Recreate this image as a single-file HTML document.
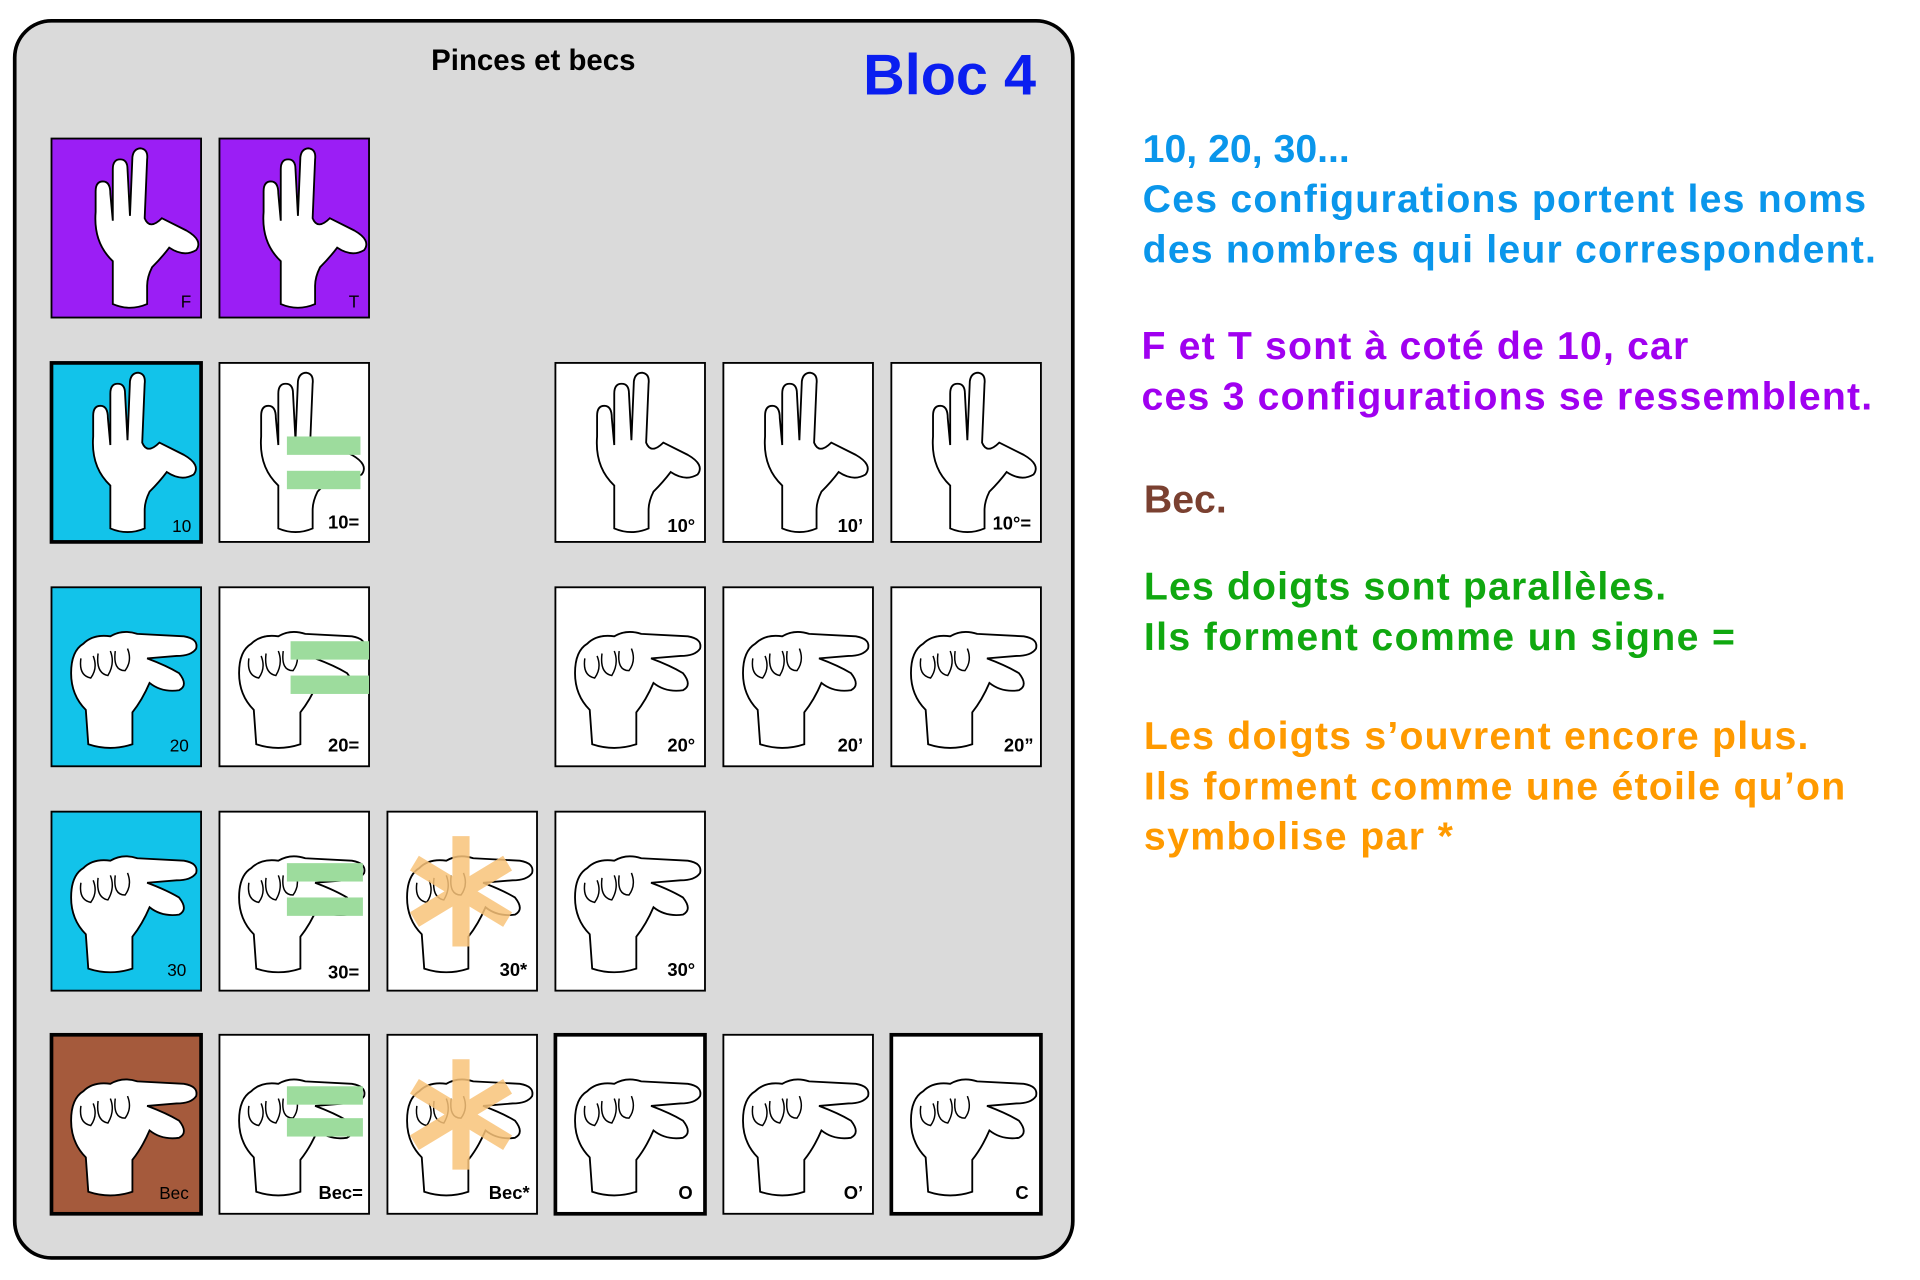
<!DOCTYPE html>
<html><head><meta charset="utf-8"><style>html,body{margin:0;padding:0;background:#fff}svg{display:block}</style></head>
<body>
<svg width="1920" height="1280" viewBox="0 0 1566 1044" preserveAspectRatio="none" xmlns="http://www.w3.org/2000/svg" font-family="Liberation Sans, sans-serif" font-weight="bold">
<defs>
<g id="hand">
 <path d="M30 130 L30 95 Q14 80 16 55 L16 38 Q16 30 22 30 Q28 30 28 40 L30 62 L30 20 Q30 12 36 12 Q42 12 42 20 L44 58 L46 10 Q47 3 53 3 Q59 4 58 12 L56 60 Q60 70 70 60 L90 70 Q104 78 98 86 Q88 92 76 84 Q70 92 62 100 Q58 108 58 115 L58 130 Q44 136 30 130 Z" fill="#fff" stroke="#000" stroke-width="1.5"/>
</g>
<g id="fist">
 <path d="M22 128 L20 100 Q8 88 8 70 Q8 52 18 46 Q26 38 40 40 Q50 34 62 38 L100 40 Q112 42 110 50 Q106 56 94 56 L70 58 Q86 64 96 70 Q104 80 96 84 Q82 86 72 78 Q66 92 58 102 L58 128 Q40 134 22 128 Z" fill="#fff" stroke="#000" stroke-width="1.5"/>
 <path d="M16 58 Q14 72 24 74 Q30 66 26 56 M30 54 Q28 70 38 72 Q44 62 40 52 M44 52 Q42 68 52 68 Q58 60 54 50" fill="none" stroke="#000" stroke-width="1.2"/>
</g>
</defs>
<rect x="0" y="0" width="1566" height="1044" fill="#fff"/>
<rect x="12" y="17" width="863" height="1009" rx="30" fill="#dadada" stroke="#000" stroke-width="3"/>
<text x="435" y="57" font-size="24" text-anchor="middle" fill="#000">Pinces et becs</text>
<text x="845" y="77" font-size="47" text-anchor="end" fill="#0a1ef0">Bloc 4</text>

<g transform="translate(42,113)"><rect width="122" height="146" fill="#9b1ef5" stroke="#000" stroke-width="1.5"/><use href="#hand" transform="translate(20,5)"/><text x="114" y="138" font-size="14" text-anchor="end" font-weight="normal">F</text></g>
<g transform="translate(179,113)"><rect width="122" height="146" fill="#9b1ef5" stroke="#000" stroke-width="1.5"/><use href="#hand" transform="translate(20,5)"/><text x="114" y="138" font-size="14" text-anchor="end" font-weight="normal">T</text></g>

<g transform="translate(42,296)"><rect width="122" height="146" fill="#12c3ea" stroke="#000" stroke-width="3"/><use href="#hand" transform="translate(18,5)"/><text x="114" y="138" font-size="14" text-anchor="end" font-weight="normal">10</text></g>
<g transform="translate(179,296)"><rect width="122" height="146" fill="#fff" stroke="#000" stroke-width="1.5"/><use href="#hand" transform="translate(18,5)"/><rect x="55" y="60" width="60" height="15" fill="#9ddc9d"/><rect x="55" y="88" width="60" height="15" fill="#9ddc9d"/><text x="114" y="135" font-size="15" text-anchor="end">10=</text></g>
<g transform="translate(453,296)"><rect width="122" height="146" fill="#fff" stroke="#000" stroke-width="1.5"/><use href="#hand" transform="translate(18,5)"/><text x="114" y="138" font-size="15" text-anchor="end">10°</text></g>
<g transform="translate(590,296)"><rect width="122" height="146" fill="#fff" stroke="#000" stroke-width="1.5"/><use href="#hand" transform="translate(18,5)"/><text x="114" y="138" font-size="15" text-anchor="end">10’</text></g>
<g transform="translate(727,296)"><rect width="122" height="146" fill="#fff" stroke="#000" stroke-width="1.5"/><use href="#hand" transform="translate(18,5)"/><text x="114" y="136" font-size="15" text-anchor="end">10°=</text></g>

<g transform="translate(42,479)"><rect width="122" height="146" fill="#12c3ea" stroke="#000" stroke-width="1.5"/><use href="#fist" transform="translate(8,0)"/><text x="112" y="134" font-size="14" text-anchor="end" font-weight="normal">20</text></g>
<g transform="translate(179,479)"><rect width="122" height="146" fill="#fff" stroke="#000" stroke-width="1.5"/><use href="#fist" transform="translate(8,0)"/><rect x="58" y="44" width="64" height="15" fill="#9ddc9d"/><rect x="58" y="72" width="64" height="15" fill="#9ddc9d"/><text x="114" y="134" font-size="15" text-anchor="end">20=</text></g>
<g transform="translate(453,479)"><rect width="122" height="146" fill="#fff" stroke="#000" stroke-width="1.5"/><use href="#fist" transform="translate(8,0)"/><text x="114" y="134" font-size="15" text-anchor="end">20°</text></g>
<g transform="translate(590,479)"><rect width="122" height="146" fill="#fff" stroke="#000" stroke-width="1.5"/><use href="#fist" transform="translate(8,0)"/><text x="114" y="134" font-size="15" text-anchor="end">20’</text></g>
<g transform="translate(727,479)"><rect width="122" height="146" fill="#fff" stroke="#000" stroke-width="1.5"/><use href="#fist" transform="translate(8,0)"/><text x="116" y="134" font-size="15" text-anchor="end">20”</text></g>

<g transform="translate(42,662)"><rect width="122" height="146" fill="#12c3ea" stroke="#000" stroke-width="1.5"/><use href="#fist" transform="translate(8,0)"/><text x="110" y="134" font-size="14" text-anchor="end" font-weight="normal">30</text></g>
<g transform="translate(179,662)"><rect width="122" height="146" fill="#fff" stroke="#000" stroke-width="1.5"/><use href="#fist" transform="translate(8,0)"/><rect x="55" y="42" width="62" height="15" fill="#9ddc9d"/><rect x="55" y="70" width="62" height="15" fill="#9ddc9d"/><text x="114" y="136" font-size="15" text-anchor="end">30=</text></g>
<g transform="translate(316,662)"><rect width="122" height="146" fill="#fff" stroke="#000" stroke-width="1.5"/><use href="#fist" transform="translate(8,0)"/><g stroke="#f9c47a" stroke-width="14" opacity="0.85"><line x1="60" y1="20" x2="60" y2="110"/><line x1="22" y1="42" x2="98" y2="88"/><line x1="22" y1="88" x2="98" y2="42"/></g><text x="114" y="134" font-size="15" text-anchor="end">30*</text></g>
<g transform="translate(453,662)"><rect width="122" height="146" fill="#fff" stroke="#000" stroke-width="1.5"/><use href="#fist" transform="translate(8,0)"/><text x="114" y="134" font-size="15" text-anchor="end">30°</text></g>

<g transform="translate(42,844)"><rect width="122" height="146" fill="#a55a3c" stroke="#000" stroke-width="3"/><use href="#fist" transform="translate(8,0)"/><text x="112" y="134" font-size="14" text-anchor="end" font-weight="normal">Bec</text></g>
<g transform="translate(179,844)"><rect width="122" height="146" fill="#fff" stroke="#000" stroke-width="1.5"/><use href="#fist" transform="translate(8,0)"/><rect x="55" y="42" width="62" height="15" fill="#9ddc9d"/><rect x="55" y="68" width="62" height="15" fill="#9ddc9d"/><text x="117" y="134" font-size="15" text-anchor="end">Bec=</text></g>
<g transform="translate(316,844)"><rect width="122" height="146" fill="#fff" stroke="#000" stroke-width="1.5"/><use href="#fist" transform="translate(8,0)"/><g stroke="#f9c47a" stroke-width="14" opacity="0.85"><line x1="60" y1="20" x2="60" y2="110"/><line x1="22" y1="42" x2="98" y2="88"/><line x1="22" y1="88" x2="98" y2="42"/></g><text x="116" y="134" font-size="15" text-anchor="end">Bec*</text></g>
<g transform="translate(453,844)"><rect width="122" height="146" fill="#fff" stroke="#000" stroke-width="3"/><use href="#fist" transform="translate(8,0)"/><text x="112" y="134" font-size="15" text-anchor="end">O</text></g>
<g transform="translate(590,844)"><rect width="122" height="146" fill="#fff" stroke="#000" stroke-width="1.5"/><use href="#fist" transform="translate(8,0)"/><text x="114" y="134" font-size="15" text-anchor="end">O’</text></g>
<g transform="translate(727,844)"><rect width="122" height="146" fill="#fff" stroke="#000" stroke-width="3"/><use href="#fist" transform="translate(8,0)"/><text x="112" y="134" font-size="15" text-anchor="end">C</text></g>

<g font-size="32">
<text x="932" y="132" fill="#0a96eb">10, 20, 30...</text>
<text x="932" y="173" fill="#0a96eb" textLength="590">Ces configurations portent les noms</text>
<text x="932" y="214" fill="#0a96eb" textLength="598">des nombres qui leur correspondent.</text>
<text x="931" y="293" fill="#a000f0" textLength="446">F et T sont à coté de 10, car</text>
<text x="931" y="334" fill="#a000f0" textLength="596">ces 3 configurations se ressemblent.</text>
<text x="933" y="418" fill="#7a4030">Bec.</text>
<text x="933" y="489" fill="#10a810" textLength="426">Les doigts sont parallèles.</text>
<text x="933" y="530" fill="#10a810" textLength="482">Ils forment comme un signe =</text>
<text x="933" y="611" fill="#ff9a00" textLength="542">Les doigts s’ouvrent encore plus.</text>
<text x="933" y="652" fill="#ff9a00" textLength="572">Ils forment comme une étoile qu’on</text>
<text x="933" y="693" fill="#ff9a00" textLength="252">symbolise par *</text>
</g>
</svg>
</body></html>
